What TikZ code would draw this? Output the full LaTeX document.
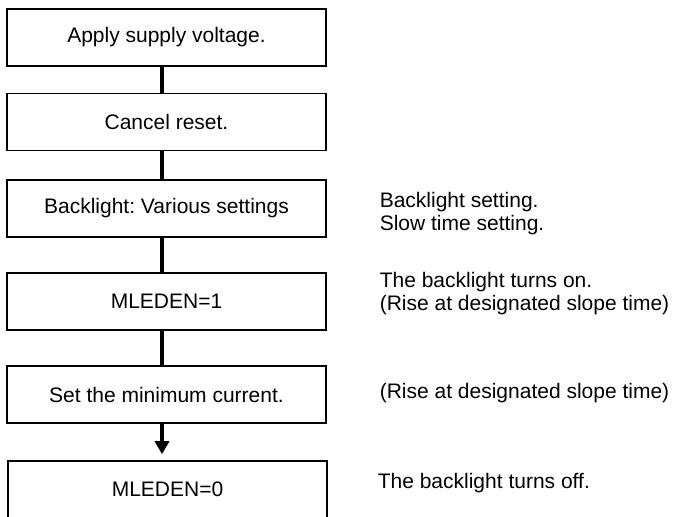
\documentclass[tikz,border=0pt]{standalone}
\usepackage{fontspec}
\setmainfont{Liberation Sans}
\usetikzlibrary{arrows.meta}
\frenchspacing

\begin{document}
\begin{tikzpicture}[x=0.5pt,y=-0.5pt,thick,
                    main box/.style={rectangle,draw,line width=0.8pt,minimum width=159.5pt,
                                     minimum height=28.5pt,inner sep=0pt,font=\fontsize{10.5}{12}\selectfont},
                    note/.style={anchor=west,align=left,inner sep=0pt,font=\fontsize{10.5}{11.5}\selectfont},
                    flow/.style={line width=1.7pt}]
  \useasboundingbox (0,0) rectangle (676,516);

  \node[main box] (supply) at (166.5,37.5) {Apply supply voltage.};
  \node[main box] (reset) at (166.5,122) {Cancel reset.};
  \node[main box] (various) at (166.5,208.5) {Backlight: Various settings};
  \node[main box] (on) at (166.5,301.5) {MLEDEN=1};
  \node[main box] (mincur) at (166.5,394.5) {Set the minimum current.};
  \node[main box] (off) at (167.5,489.5) {MLEDEN=0};

  \node[note] (various note) at (379,214) {Backlight setting.\\Slow time setting.};
  \node[note] (on note) at (379,294) {The backlight turns on.\\(Rise at designated slope time)};
  \node[note] (mincur note) at (379,393) {(Rise at designated slope time)};
  \node[note] (off note) at (377,483) {The backlight turns off.};

  \path[flow,every edge/.style={draw,line width=1.7pt}]
    ([xshift=-2.25pt]supply.south) edge ([xshift=-2.25pt]reset.north)
    ([xshift=-2.25pt]reset.south) edge ([xshift=-2.25pt]various.north)
    ([xshift=-2.25pt]various.south) edge ([xshift=-2.25pt]on.north)
    ([xshift=-2.25pt]on.south) edge ([xshift=-2.25pt]mincur.north);
  \draw[flow,-{Triangle[length=6.5pt,width=7pt]},shorten >=3pt]
    ([xshift=-2.25pt]mincur.south) -- ([xshift=-2.75pt]off.north);
\end{tikzpicture}
\end{document}
